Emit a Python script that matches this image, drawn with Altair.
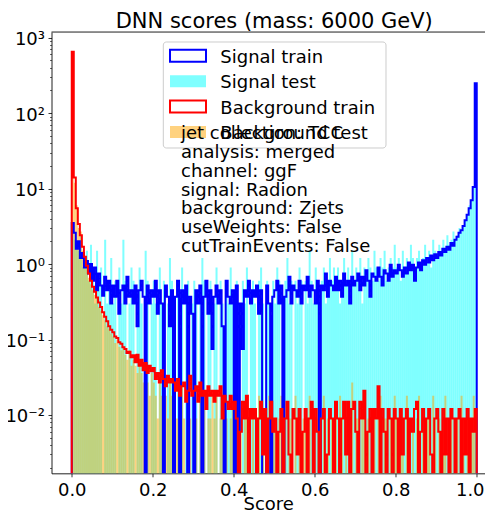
import altair as alt
import pandas as pd

# ---------------- data ----------------
BIN_WIDTH = 0.005  # 200 bins on [0, 1]

# Signal train (blue step histogram), density per bin
sig_train = [
    3.5, 2.6, 1.6, 2.0, 1.2, 1.4, 0.9, 1.1, 0.75, 1.0,
    0.6, 0.9, 0.45, 0.75, 0.52, 0.38, 0.68, 0.45, 0.6, 0.3,
    0.52, 0.37, 0.6, 0.22, 0.45, 0.52, 0.3, 0.68, 0.37, 0.45,
    0.3, 0.52, 0.15, 0.45, 0.6, 0.37, 0, 0.52, 0.3, 0.45,
    0.37, 0.6, 0.22, 0.45, 0.3, 0, 0.52, 0.37, 0.15, 0.45,
    0, 0.37, 0.6, 0, 0.45, 0.3, 0.52, 0, 0.37, 0.22,
    0, 0.45, 0.3, 0.52, 0, 0.37, 0.6, 0.22, 0.45, 0.075,
    0.37, 0.52, 0.3, 0.45, 0.15, 0, 0.6, 0.37, 0.3, 0.45,
    0, 0.52, 0, 0.3, 0.075, 0.45, 0.37, 0.6, 0.3, 0.45,
    0.37, 0.52, 0.22, 0.45, 0, 0, 0.52, 0.3, 0, 0.37,
    0.45, 0.6, 0.3, 0.52, 0, 0.37, 0.45, 0.68, 0.3, 0.52,
    0.45, 0.37, 0.6, 0.3, 0.52, 0.45, 0.68, 0.37, 0.52, 0.45,
    0.3, 0.6, 0, 0.52, 0.45, 0.75, 0.37, 0.6, 0.52, 0.45,
    0.68, 0.45, 0.6, 0.37, 0.75, 0.52, 0.6, 0.3, 0.68, 0.52,
    0.6, 0.75, 0.45, 0.68, 0.52, 0.83, 0.6, 0.37, 0.75, 0.68,
    0.6, 0.9, 0.68, 0.52, 0.83, 0.75, 0.6, 0.98, 0.68, 0.83,
    0.75, 0.98, 0.83, 0.68, 0.9, 0.75, 1.05, 0.83, 0.98, 0.6,
    0.9, 1.05, 0.83, 1.12, 0.98, 1.2, 1.05, 1.3, 1.12, 1.35,
    1.2, 1.45, 1.3, 1.6, 1.45, 1.7, 1.55, 1.9, 1.75, 2.1,
    2.3, 2.6, 2.8, 3.2, 3.8, 4.5, 5.5, 7.0, 10.5, 250,
]

# Signal test (cyan filled bars)
sig_test = [
    3.3, 2.1, 1.8, 1.5, 2.4, 0.9, 1.2, 1.5, 0.6, 1.8,
    0.9, 0.3, 1.5, 0.6, 0.9, 0, 2.1, 0.3, 0.6, 1.2,
    0.3, 0.6, 0, 0.9, 0.3, 2.1, 0.6, 0, 0.3, 0.9,
    0.6, 0, 0.3, 0.9, 0.3, 0, 1.5, 0.6, 0, 0.3,
    0.6, 0.3, 0, 0.9, 0.3, 0.6, 0, 0.3, 1.2, 0.6,
    0.3, 0, 0.6, 0.3, 0.9, 0, 0.3, 0.6, 0, 0.3,
    0.6, 0.3, 0, 0.3, 1.2, 0.6, 0, 0.3, 0.6, 0,
    0.3, 0.9, 0, 0.6, 0.3, 0, 0.6, 0.3, 0.9, 0.3,
    0, 0.6, 0.3, 0, 0.6, 0.3, 0.9, 0, 0.3, 0.6,
    0.3, 0, 0.6, 0.9, 0.3, 0, 0.6, 0.3, 0, 0.6,
    0.3, 0.9, 0.6, 0, 0.3, 0.6, 1.2, 0.3, 0.6, 0,
    0.6, 0.3, 0.9, 0.6, 0, 0.6, 0.3, 1.5, 0.6, 0.3,
    0.9, 0.6, 0.3, 0.6, 0.9, 0.3, 0.6, 1.2, 0.6, 0.9,
    0.6, 0.9, 0.3, 0.6, 1.2, 0.6, 0.9, 0.6, 1.5, 0.6,
    0.9, 0.6, 1.2, 0.3, 0.9, 0.6, 1.2, 0.9, 0.6, 1.5,
    0.9, 0.6, 1.2, 0.9, 1.5, 0.6, 0.9, 1.2, 0.9, 1.8,
    0.9, 1.2, 0.6, 1.5, 0.9, 1.2, 0.9, 1.8, 1.2, 0.9,
    1.2, 1.5, 0.9, 1.2, 1.8, 1.2, 1.5, 0.9, 2.1, 1.5,
    1.2, 1.8, 1.5, 2.1, 1.5, 2.4, 1.8, 2.1, 2.7, 2.1,
    2.4, 3.0, 2.7, 3.3, 3.9, 4.5, 6.0, 7.2, 10.8, 240,
]

# Background train (red step histogram)
bkg_train = [
    650, 14, 5.5, 3.4, 2.4, 1.7, 1.25, 0.95, 0.75, 0.6,
    0.5, 0.43, 0.36, 0.31, 0.27, 0.23, 0.2, 0.175, 0.15, 0.135,
    0.125, 0.11, 0.105, 0.092, 0.088, 0.079, 0.075, 0.066, 0.069, 0.058,
    0.062, 0.05, 0.063, 0.045, 0.054, 0.039, 0.049, 0.036, 0.045, 0.038,
    0.042, 0.03, 0.036, 0.027, 0.039, 0.03, 0.024, 0.033, 0.027, 0.03,
    0.027, 0.021, 0.03, 0.018, 0.024, 0.027, 0.015, 0.021, 0.033, 0.018,
    0.021, 0.024, 0.015, 0.027, 0.018, 0.021, 0.012, 0.024, 0.018, 0.021,
    0.015, 0.021, 0.018, 0.024, 0.009, 0.018, 0.015, 0.012, 0.018, 0.012,
    0.015, 0.009, 0, 0.006, 0.015, 0.009, 0.018, 0, 0.012, 0.009,
    0.012, 0, 0.009, 0.015, 0.003, 0.012, 0, 0.009, 0.015, 0.006,
    0.009, 0, 0.006, 0.012, 0, 0.009, 0.015, 0.003, 0, 0.012,
    0.009, 0.003, 0.012, 0, 0.006, 0.012, 0, 0.009, 0.015, 0,
    0.012, 0.006, 0, 0.009, 0.012, 0, 0.003, 0.012, 0.009, 0,
    0.015, 0.009, 0, 0.009, 0.015, 0.003, 0.015, 0, 0.012, 0.015,
    0.006, 0, 0.015, 0.009, 0.021, 0, 0.006, 0.012, 0, 0.012,
    0.009, 0.024, 0, 0.012, 0.006, 0, 0.012, 0.009, 0, 0.012,
    0.009, 0, 0.012, 0.003, 0.009, 0.012, 0, 0.009, 0.006, 0.012,
    0.015, 0, 0.006, 0.012, 0, 0.009, 0.012, 0.003, 0, 0.009,
    0.012, 0.006, 0, 0.012, 0.003, 0.009, 0, 0.012, 0.009, 0,
    0.009, 0.012, 0, 0.009, 0.003, 0.012, 0, 0.009, 0.006, 0.012,
]

# Background test (orange filled bars)
bkg_test = [
    600, 12, 6.0, 3.0, 2.7, 1.5, 1.2, 0.9, 0.66, 0.54,
    0.45, 0.39, 0.36, 0.27, 0.24, 0.21, 0.18, 0.15, 0.14, 0.12,
    0.11, 0.09, 0.1, 0.08, 0.072, 0.081, 0.063, 0.054, 0.072, 0.045,
    0.054, 0.045, 0.036, 0.045, 0.036, 0.027, 0.036, 0.027, 0.018, 0.036,
    0.027, 0.018, 0.009, 0.027, 0.018, 0.009, 0.018, 0.009, 0.027, 0.018,
    0.018, 0.009, 0.009, 0.018, 0.027, 0.009, 0, 0.018, 0.009, 0,
    0.018, 0.009, 0, 0.018, 0.009, 0.018, 0, 0.009, 0.009, 0.018,
    0.009, 0.018, 0, 0.009, 0.018, 0.009, 0.009, 0, 0.009, 0.018,
    0.009, 0, 0.018, 0.009, 0, 0.009, 0.018, 0.009, 0, 0.009,
    0, 0.009, 0.018, 0, 0.009, 0, 0.009, 0.018, 0, 0.009,
    0.009, 0, 0.009, 0.018, 0, 0.009, 0, 0.009, 0.009, 0,
    0.018, 0, 0.009, 0, 0.009, 0.009, 0, 0.018, 0, 0.009,
    0, 0.009, 0.009, 0, 0.018, 0, 0.009, 0, 0.009, 0.009,
    0.009, 0, 0.018, 0.009, 0, 0.009, 0, 0.009, 0.027, 0,
    0.009, 0.009, 0, 0.009, 0.018, 0, 0.009, 0, 0.009, 0.009,
    0, 0.009, 0.018, 0, 0.009, 0.009, 0, 0.009, 0, 0.018,
    0.009, 0, 0.009, 0.009, 0, 0.018, 0.009, 0, 0.009, 0,
    0.009, 0.018, 0, 0.009, 0, 0.009, 0.009, 0, 0.018, 0.009,
    0, 0.009, 0, 0.009, 0.018, 0, 0.009, 0.009, 0, 0.009,
    0.009, 0, 0.018, 0.009, 0, 0.009, 0, 0.009, 0.018, 0.009,
]

LEGEND_LABELS = ["Signal train", "Signal test", "Background train", "Background test"]
INFO_LINES = [
    "jet collection: TCC",
    "analysis: merged",
    "channel: ggF",
    "signal: Radion",
    "background: Zjets",
    "useWeights: False",
    "cutTrainEvents: False",
]
TITLE = "DNN scores (mass: 6000 GeV)"
X_TITLE = "Score"
X_TICKS = [0.0, 0.2, 0.4, 0.6, 0.8, 1.0]
Y_DECADES = [0.01, 0.1, 1, 10, 100, 1000]
Y_DECADE_LABELS = ["10⁻²", "10⁻¹", "10⁰", "10¹", "10²", "10³"]

# ---------------- styling ----------------
FONT = "DejaVu Sans"
BLUE, CYAN, RED, ORANGE = "#0000ff", "#00ffff", "#ff0000", "#ffa500"
FLOOR = 1e-4  # below the visible range: zero bins drop out of the frame
Y_MIN, Y_MAX = 0.001686, 1190
PX_PER_UNIT = 405.0
W, H = 433.5, 441.3
X_MIN = -0.05
X_MAX = X_MIN + W / PX_PER_UNIT

# ---------------- tables built from the arrays ----------------
n = len(sig_train)
edges = [round(i * BIN_WIDTH, 4) for i in range(n + 1)]


def bars(values):
    rows = []
    for i, v in enumerate(values):
        if v > 0:
            rows.append({"x0": edges[i], "x1": edges[i + 1], "y": v, "base": FLOOR})
    return pd.DataFrame(rows)


def steps(values):
    pts = [(edges[0], FLOOR)]
    for i, v in enumerate(values):
        pts.append((edges[i], v if v > 0 else FLOOR))
    last = values[-1] if values[-1] > 0 else FLOOR
    pts.append((edges[-1], last))
    pts.append((edges[-1], FLOOR))
    return pd.DataFrame([{"x0": x, "y": y, "o": k} for k, (x, y) in enumerate(pts)])


x_scale = alt.Scale(domain=[X_MIN, X_MAX], nice=False, zero=False)
y_scale = alt.Scale(type="log", domain=[Y_MIN, Y_MAX], nice=False)

minor = []
for k in range(-3, 3):
    for m in range(2, 10):
        v = float(f"{m}e{k}")
        if Y_MIN <= v <= Y_MAX:
            minor.append(v)

label_expr = "''"
for val, lab in zip(Y_DECADES, Y_DECADE_LABELS):
    label_expr = f"datum.value == {val} ? '{lab}' : ({label_expr})"
major_test = "indexof([" + ",".join(str(v) for v in Y_DECADES) + "], datum.value) >= 0"

x_axis = alt.Axis(
    values=X_TICKS, format=".1f", title=X_TITLE, grid=False,
    labelFont=FONT, labelFontSize=18, labelColor="black", labelPadding=4.5,
    labelOffset={"condition": {"test": "datum.value == 1", "value": -7}, "value": 0},
    titleFont=FONT, titleFontSize=18, titleFontWeight="normal", titleColor="black",
    titlePadding=-4,
    tickSize=3.5, tickWidth=0.8, tickColor="black",
    domainColor="black", domainWidth=0.8,
)
y_axis = alt.Axis(
    values=Y_DECADES + minor, labelExpr=label_expr, title=None, grid=False,
    labelFont=FONT, labelFontSize=18, labelColor="black", labelPadding=3.5,
    labelOffset=2, labelOverlap=False, labelBound=False, labelFlush=False,
    tickSize={"condition": {"test": major_test, "value": 3.5}, "value": 2},
    tickWidth={"condition": {"test": major_test, "value": 0.8}, "value": 0.6},
    tickColor="black", domainColor="black", domainWidth=0.8,
)

X_ENC = alt.X("x0:Q", scale=x_scale, axis=x_axis)
Y_ENC = alt.Y("y:Q", scale=y_scale, axis=y_axis)

sig_test_layer = alt.Chart(bars(sig_test)).mark_rect(
    color=CYAN, opacity=0.5, strokeWidth=0, clip=True
).encode(x=X_ENC, x2="x1:Q", y=Y_ENC, y2="base:Q")

bkg_test_layer = alt.Chart(bars(bkg_test)).mark_rect(
    color=ORANGE, opacity=0.5, strokeWidth=0, clip=True
).encode(x=X_ENC, x2="x1:Q", y=Y_ENC, y2="base:Q")


def step_layer(values, color):
    return alt.Chart(steps(values)).mark_line(
        color=color, strokeWidth=2, interpolate="step-after", clip=True, strokeJoin="miter"
    ).encode(x=X_ENC, y=Y_ENC, order="o:Q")


sig_train_layer = step_layer(sig_train, BLUE)
bkg_train_layer = step_layer(bkg_train, RED)

one = alt.Data(values=[{}])

top_spine = alt.Chart(one).mark_rule(color="black", strokeWidth=0.8).encode(
    x=alt.value(0), x2=alt.value(W + 10), y=alt.value(0)
)

legend_box = alt.Chart(one).mark_rect(
    fill="white", fillOpacity=0.8, stroke="#cccccc", strokeWidth=1, cornerRadius=3
).encode(x=alt.value(111.8), x2=alt.value(334.5), y=alt.value(10), y2=alt.value(116))

legend_layers = []
row_centers = [23.8, 49.2, 74.6, 100.0]
handle_styles = [
    dict(fill="white", fillOpacity=0, stroke=BLUE, strokeWidth=2),
    dict(fill=CYAN, fillOpacity=0.5, strokeWidth=0),
    dict(fill="white", fillOpacity=0, stroke=RED, strokeWidth=2),
    dict(fill=ORANGE, fillOpacity=0.5, strokeWidth=0),
]
for label, cy, style in zip(LEGEND_LABELS, row_centers, handle_styles):
    legend_layers.append(
        alt.Chart(one).mark_rect(**style).encode(
            x=alt.value(118.5), x2=alt.value(154.5), y=alt.value(cy - 6), y2=alt.value(cy + 6)
        )
    )
    legend_layers.append(
        alt.Chart(one).mark_text(
            font=FONT, fontSize=18, align="left", baseline="alphabetic", color="black"
        ).encode(x=alt.value(168.8), y=alt.value(cy + 7.2), text=alt.value(label))
    )

info_text = alt.Chart(one).mark_text(
    font=FONT, fontSize=18, align="left", baseline="alphabetic", color="black", lineHeight=18.8
).encode(x=alt.value(129.5), y=alt.value(107.2), text=alt.value(INFO_LINES))

chart = alt.layer(
    sig_test_layer, bkg_test_layer, sig_train_layer, bkg_train_layer,
    top_spine, legend_box, *legend_layers, info_text,
).properties(
    width=W, height=H,
    title=alt.TitleParams(
        TITLE, font=FONT, fontSize=21, fontWeight="normal", color="black",
        anchor="middle", frame="group", offset=-1, dx=6,
    ),
    autosize=alt.AutoSizeParams(type="none"),
    padding={"left": 43.5, "top": 24, "right": 0, "bottom": 39},
).configure_view(stroke=None).configure(background="white")

chart.save("out.html", embed_options={"renderer": "svg", "actions": False})
